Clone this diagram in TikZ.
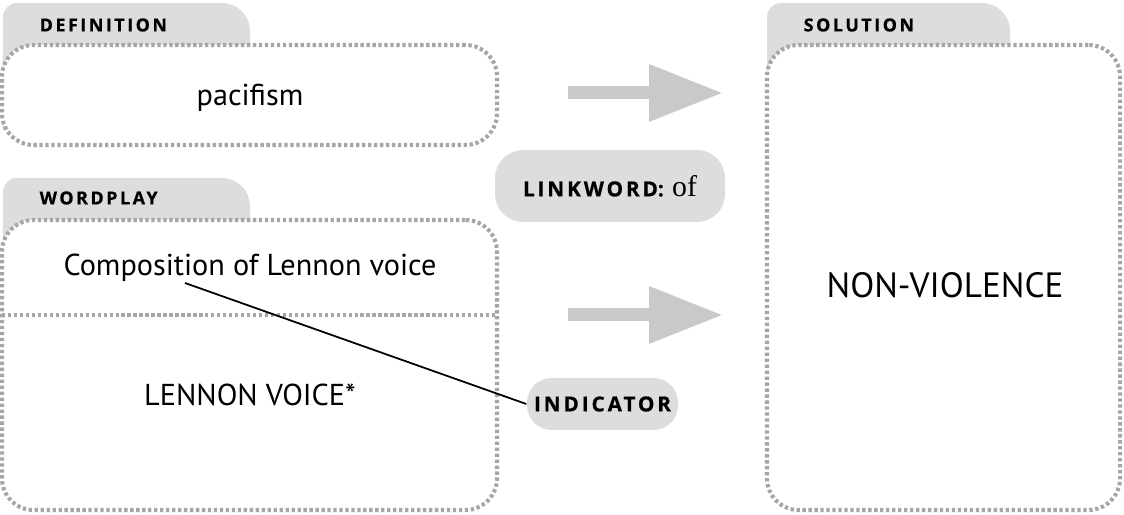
\documentclass[tikz,border=0pt]{standalone}
\usepackage{fontspec}
\setmainfont{PT Sans}
\newfontfamily\tabfont[LetterSpace=14, BoldFeatures={FakeBold=0.7}]{Open Sans}
\newfontfamily\linkserif{Liberation Serif}
\usetikzlibrary{arrows.meta, positioning}

\definecolor{tabgrey}{HTML}{DDDDDD}
\definecolor{dotgrey}{HTML}{A6A6A6}
\definecolor{arrowgrey}{HTML}{C9C9C9}

\tikzset{
  dotbox/.style={draw=dotgrey, line width=1.15pt, dash pattern=on 0.95pt off 0.75pt,
    rounded corners=9pt, fill=white, inner sep=0pt},
  dotline/.style={draw=dotgrey, line width=1.15pt, dash pattern=on 0.95pt off 0.75pt},
  tablabel/.style={font=\tabfont\bfseries\fontsize{5.1}{6}\selectfont, anchor=west, inner sep=0pt},
  pill/.style={fill=tabgrey, rounded corners=8pt, inner sep=0pt,
    font=\tabfont\bfseries\fontsize{5.9}{7}\selectfont},
  bodytext/.style={font=\fontsize{8.6}{10}\selectfont, inner sep=0pt},
  bigarrow/.style={draw=arrowgrey, line width=3.7pt, -{Triangle[length=0.74cm, width=0.54cm]}}
}

\begin{document}
\begin{tikzpicture}[x=1cm, y=-1cm]
  \useasboundingbox (0,0) rectangle (11.24,5.15);

  % Tabs
  \fill[tabgrey] (0.03,1.3) [rounded corners=4pt] -- (0.03,0.03) [rounded corners=8pt] -- (2.50,0.03) [sharp corners] -- (2.50,1.3) -- cycle;
  \fill[tabgrey] (0.03,3.0) [rounded corners=4pt] -- (0.03,1.78) [rounded corners=8pt] -- (2.50,1.78) [sharp corners] -- (2.50,3.0) -- cycle;
  \fill[tabgrey] (7.67,1.3) [rounded corners=4pt] -- (7.67,0.03) [rounded corners=8pt] -- (10.10,0.03) [sharp corners] -- (10.10,1.3) -- cycle;

  % Boxes
  \node[dotbox, minimum width=4.95cm, minimum height=1.0cm] (defbox) at (2.495,0.95) {};
  \node[dotbox, minimum width=4.95cm, minimum height=2.9cm] (wpbox) at (2.495,3.65) {};
  \node[dotbox, minimum width=3.53cm, minimum height=4.65cm] (solbox) at (9.435,2.775) {};

  % Tab labels
  \node[tablabel] (deflabel) at (0.39,0.25) {DEFINITION};
  \node[tablabel] (wplabel) at (0.39,1.98) {WORDPLAY};
  \node[tablabel] (sollabel) at (8.03,0.25) {SOLUTION};

  % Texts
  \node[bodytext] (deftext) at (2.50,0.98) {pacifism};
  \node[bodytext] (comptext) at (2.50,2.68) {Composition of Lennon voice};
  \node[bodytext] (fodder) at (2.50,3.95) {LENNON VOICE*};
  \node[bodytext, font=\fontsize{10}{12}\selectfont] (soltext) at (9.45,2.85) {NON-VIOLENCE};
  \draw[dotline] (0.02,3.15) -- (4.97,3.15);

  % Link and indicator
  \node[pill, minimum width=2.30cm, minimum height=0.72cm] (link) at (6.10,1.86)
    {LINKWORD{\addfontfeature{LetterSpace=0}:} {\linkserif\mdseries\fontsize{8.5}{9}\selectfont of}};
  \node[pill, minimum width=1.51cm, minimum height=0.52cm, rounded corners=7pt] (indicator) at (6.025,4.04) {INDICATOR};

  % Arrows
  \coordinate (a1s) at (5.68,0.93);
  \coordinate (a1e) at (7.23,0.93);
  \coordinate (a2s) at (5.68,3.15);
  \coordinate (a2e) at (7.23,3.15);
  \draw[bigarrow] (a1s) -- (a1e);
  \draw[bigarrow] (a2s) -- (a2e);

  \coordinate (indfrom) at (1.85,2.83);
  \draw[line width=0.5pt] (indfrom) -- (indicator.west);
\end{tikzpicture}
\end{document}
